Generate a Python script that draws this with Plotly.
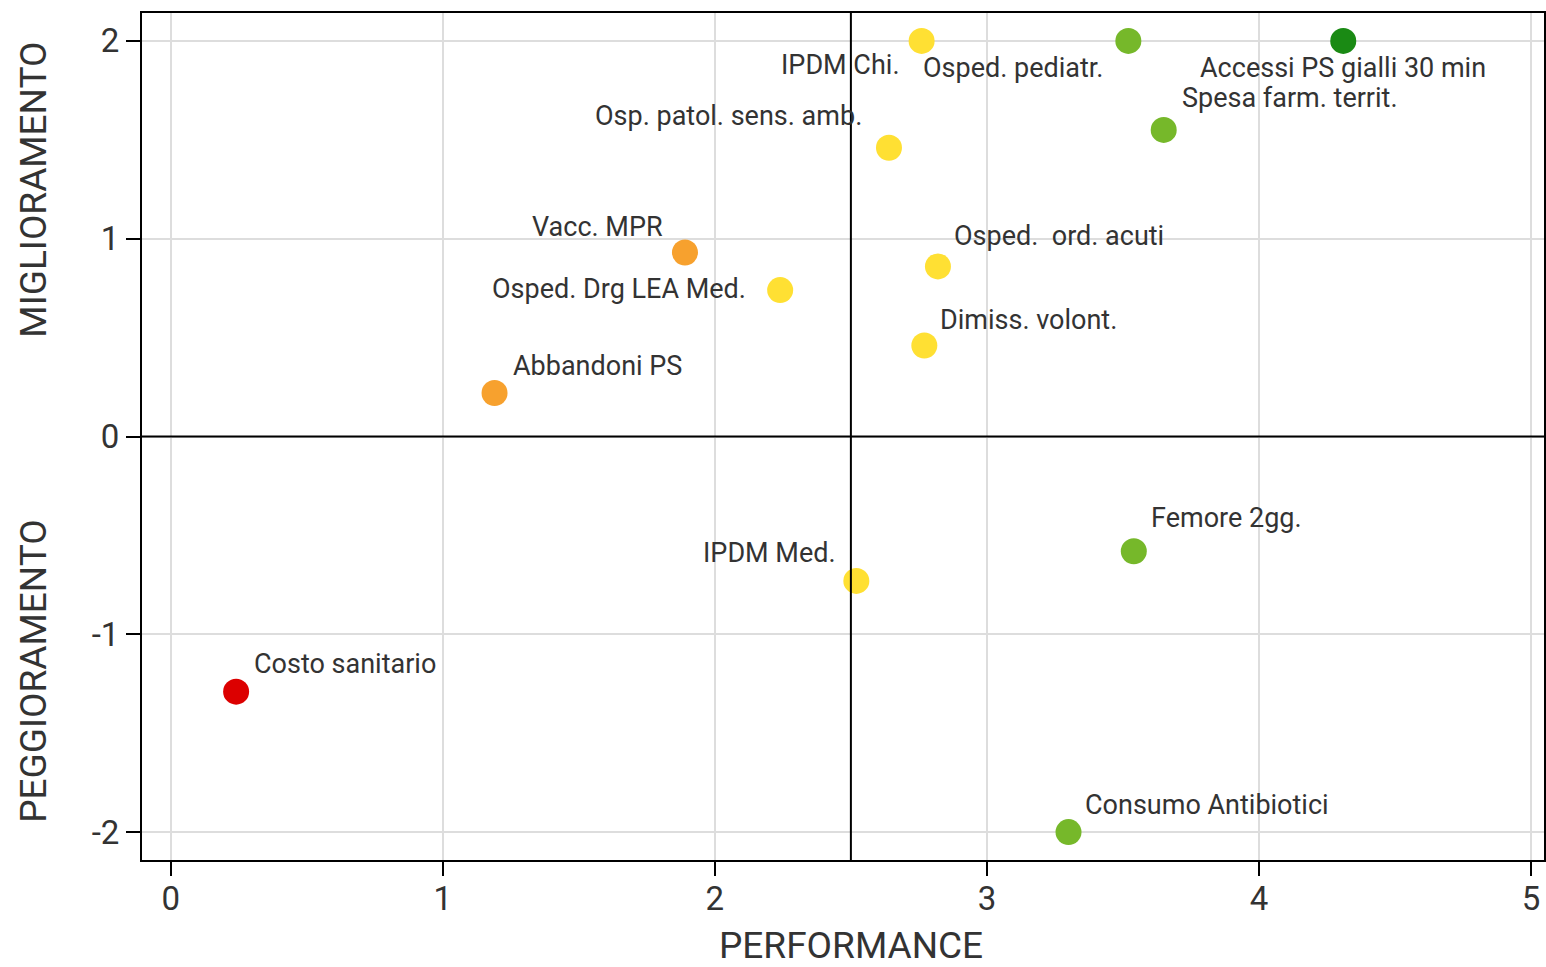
import plotly.graph_objects as go

names = ["Costo sanitario", "Abbandoni PS", "Vacc. MPR", "Osped. Drg LEA Med.",
         "Osp. patol. sens. amb.", "IPDM Chi.", "Osped. pediatr.", "Accessi PS gialli 30 min",
         "Spesa farm. territ.", "Osped.  ord. acuti", "Dimiss. volont.", "IPDM Med.",
         "Femore 2gg.", "Consumo Antibiotici"]
performance = [0.24, 1.19, 1.89, 2.24, 2.64, 2.76, 3.52, 4.31, 3.65, 2.82, 2.77, 2.52, 3.54, 3.30]
trend = [-1.29, 0.22, 0.93, 0.74, 1.46, 2.0, 2.0, 2.0, 1.55, 0.86, 0.46, -0.73, -0.58, -2.0]
colors = ["#DC0000", "#F7A12E", "#F7A12E", "#FFE033", "#FFE033", "#FFE033", "#76B82A",
          "#1A8A14", "#76B82A", "#FFE033", "#FFE033", "#FFE033", "#76B82A", "#76B82A"]
x_ticks = [0, 1, 2, 3, 4, 5]
x_ticktext = ["0", "1", "2", "3", "4", "5"]
y_ticks = [-2, -1, 0, 1, 2]
y_ticktext = ["-2", "-1", "0", "1", "2"]

# label placement (style): xanchor, xshift, yshift
label_style = {
    "Costo sanitario": ("left", 16, 28),
    "Abbandoni PS": ("left", 16, 27),
    "Vacc. MPR": ("right", -20, 26),
    "Osped. Drg LEA Med.": ("right", -32, 1),
    "Osp. patol. sens. amb.": ("right", -25, 32),
    "IPDM Chi.": ("right", -20, -24),
    "Osped. pediatr.": ("right", -23, -27),
    "Accessi PS gialli 30 min": ("center", 0, -27),
    "Spesa farm. territ.": ("left", 16, 32),
    "Osped.  ord. acuti": ("left", 14, 30),
    "Dimiss. volont.": ("left", 14, 26),
    "IPDM Med.": ("right", -18, 28),
    "Femore 2gg.": ("left", 15, 33),
    "Consumo Antibiotici": ("left", 14, 27),
}

FONT = "Roboto"
TXT = "#333333"

fig = go.Figure()
fig.add_trace(go.Scatter(
    x=performance, y=trend, mode="markers",
    marker=dict(size=26, color=colors, line=dict(width=0)),
    text=names, hoverinfo="text", showlegend=False,
))

annotations = []
for n, xv, yv in zip(names, performance, trend):
    xa, xs, ys = label_style[n]
    annotations.append(dict(x=xv, y=yv, xref="x", yref="y", text=n.replace("  ", "&nbsp; "),
                            showarrow=False, xanchor=xa, yanchor="middle",
                            xshift=xs, yshift=ys,
                            font=dict(family=FONT, size=27, color=TXT)))

annotations.append(dict(x=-0.078, y=0.791, xref="paper", yref="paper", text="MIGLIORAMENTO",
                        showarrow=False, textangle=-90, xanchor="center", yanchor="middle",
                        font=dict(family=FONT, size=37, color=TXT)))
annotations.append(dict(x=-0.078, y=0.223, xref="paper", yref="paper", text="PEGGIORAMENTO",
                        showarrow=False, textangle=-90, xanchor="center", yanchor="middle",
                        font=dict(family=FONT, size=37, color=TXT)))
annotations.append(dict(x=0.5057, y=-0.101, xref="paper", yref="paper", text="PERFORMANCE",
                        showarrow=False, xanchor="center", yanchor="middle", borderpad=0,
                        font=dict(family=FONT, size=37, color=TXT)))

shapes = [
    dict(type="line", xref="x", yref="paper", x0=2.5, x1=2.5, y0=0, y1=1,
         line=dict(color="black", width=2)),
    dict(type="line", xref="paper", yref="y", x0=0, x1=1, y0=0, y1=0,
         line=dict(color="black", width=2)),
]

fig.update_layout(
    width=1546, height=967,
    margin=dict(l=142, r=0, t=13, b=107),
    plot_bgcolor="white", paper_bgcolor="white",
    annotations=annotations, shapes=shapes,
    xaxis=dict(range=[-0.106, 5.048], tickvals=x_ticks, ticktext=x_ticktext, ticks="outside",
               ticklen=14, tickwidth=2, tickcolor="black", showline=True, linecolor="black",
               linewidth=2, mirror=True, showgrid=True, gridcolor="#DDDDDD", gridwidth=2,
               zeroline=False, tickfont=dict(family=FONT, size=33, color=TXT),
               ticklabelstandoff=-6),
    yaxis=dict(range=[-2.141, 2.141], tickvals=y_ticks, ticktext=y_ticktext, ticks="outside",
               ticklen=14, tickwidth=2, tickcolor="black", showline=True, linecolor="black",
               linewidth=2, mirror=True, showgrid=True, gridcolor="#DDDDDD", gridwidth=2,
               zeroline=False, tickfont=dict(family=FONT, size=33, color=TXT)),
)

fig.write_html("out.html", config={"displayModeBar": False},
               post_script="document.body.style.margin='0';document.body.style.overflow='hidden';")
